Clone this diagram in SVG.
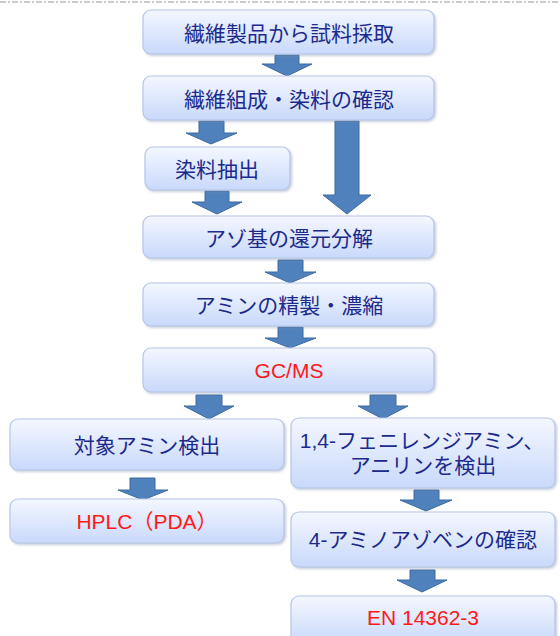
<svg xmlns="http://www.w3.org/2000/svg" width="560" height="636" viewBox="0 0 560 636">
<defs>
<linearGradient id="bg" x1="0" y1="0" x2="0" y2="1">
<stop offset="0" stop-color="#f4f7ff"/>
<stop offset="1" stop-color="#c9d9fb"/>
</linearGradient>
<filter id="sh" x="-5%" y="-10%" width="115%" height="130%">
<feDropShadow dx="1.5" dy="1.5" stdDeviation="1" flood-color="#8090b0" flood-opacity="0.45"/>
</filter>
</defs>
<style>
.box{fill:url(#bg);stroke:#b6c6e6;stroke-width:1.2;filter:url(#sh)}
.t{font-family:"Noto Sans CJK JP","Liberation Sans",sans-serif;font-size:21px;fill:#1c2a8c;text-anchor:middle;dominant-baseline:central}
.tl{font-family:"Liberation Sans","Noto Sans CJK JP",sans-serif}
.r{font-family:"Liberation Sans","Noto Sans CJK JP",sans-serif;font-size:21px;fill:#ff1a1a;text-anchor:middle;dominant-baseline:central}
.arr{fill:#4f81bd;stroke:#3d6b9f;stroke-width:1}
</style>
<rect width="560" height="636" fill="#ffffff"/>
<line x1="0" y1="2" x2="560" y2="2" stroke="#9a9a9a" stroke-width="1.2" stroke-dasharray="6,2,2,2"/>
<g id="connectors">
<polygon class="arr" points="275,55 299,55 299,64 312,64 287,76 262,64 275,64"/>
<polygon class="arr" points="199,121 224,121 224,133 237,133 211,144 186,133 199,133"/>
<polygon class="arr" points="335,121 359,121 359,195 371,195 347,214 323,195 335,195"/>
<polygon class="arr" points="205,191 229,191 229,202 242,202 217,214 192,202 205,202"/>
<polygon class="arr" points="278,260 303,260 303,272 316,272 290,283 265,272 278,272"/>
<polygon class="arr" points="278,327 303,327 303,338 316,338 290,348 265,338 278,338"/>
<polygon class="arr" points="196,395 222,395 222,406 234,406 209,419 184,406 196,406"/>
<polygon class="arr" points="370,395 396,395 396,406 408,406 383,419 358,406 370,406"/>
<polygon class="arr" points="130,478 155,478 155,490 168,490 143,500 118,490 130,490"/>
<polygon class="arr" points="414,490 439,490 439,500 452,500 426,511 400,500 414,500"/>
<polygon class="arr" points="410,570 435,570 435,580 447,580 422,592 397,580 410,580"/>
</g>
<g id="n1"><rect class="box" x="143" y="10" width="291" height="44" rx="8"/><text class="t" x="289" y="32">繊維製品から試料採取</text></g>
<g id="n2"><rect class="box" x="143" y="76" width="291" height="44" rx="8"/><text class="t" x="289" y="98">繊維組成・染料の確認</text></g>
<g id="n3"><rect class="box" x="145" y="147" width="145" height="43" rx="8"/><text class="t" x="217" y="168">染料抽出</text></g>
<g id="n4"><rect class="box" x="143" y="216" width="291" height="42" rx="8"/><text class="t" x="289" y="237">アゾ基の還元分解</text></g>
<g id="n5"><rect class="box" x="143" y="283" width="291" height="43" rx="8"/><text class="t" x="289" y="304">アミンの精製・濃縮</text></g>
<g id="n6"><rect class="box" x="143" y="348" width="291" height="44" rx="8"/><text class="r" x="289" y="370">GC/MS</text></g>
<g id="n7"><rect class="box" x="10" y="419" width="274" height="51" rx="8"/><text class="t" x="147" y="444">対象アミン検出</text></g>
<g id="n8"><rect class="box" x="291" y="418" width="264" height="70" rx="8"/><text class="t tl" x="422" y="440">1,4-フェニレンジアミン、</text><text class="t tl" x="423" y="465">アニリンを検出</text></g>
<g id="n9"><rect class="box" x="10" y="499" width="274" height="44" rx="8"/><text class="r" x="147" y="521">HPLC（PDA）</text></g>
<g id="n10"><rect class="box" x="291" y="512" width="264" height="55" rx="8"/><text class="t tl" x="423" y="539">4-アミノアゾベンの確認</text></g>
<g id="n11"><rect class="box" x="291" y="596" width="264" height="48" rx="8"/><text class="r" x="423" y="617">EN 14362-3</text></g>
</svg>
